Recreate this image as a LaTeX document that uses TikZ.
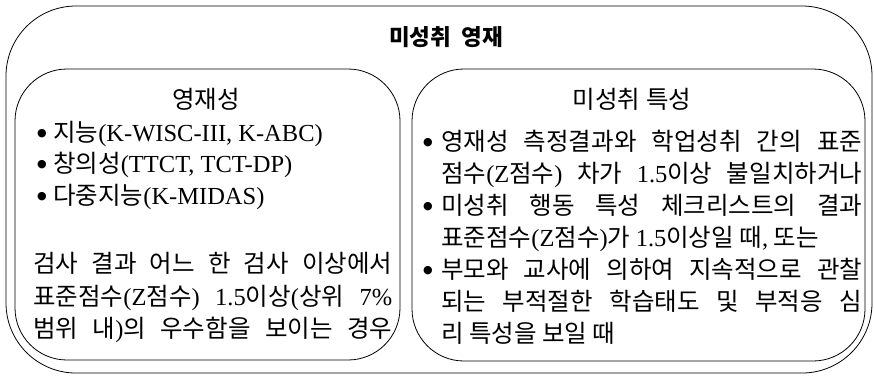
\documentclass[tikz,border=0pt]{standalone}
\usepackage{fontspec}
\setmainfont{Noto Sans CJK KR}
\newfontfamily\latfont{Liberation Serif}
\newfontfamily\symfont{DejaVu Sans}
\newcommand\lt[1]{{\latfont #1}}
\newcommand\bul{{\fontsize{11pt}{11pt}\selectfont\symfont ●}}
\begin{document}
\begin{tikzpicture}[x=1pt,y=-1pt,
  boxline/.style={draw=black, line width=0.8pt},
  body/.style={inner sep=0pt, anchor=base west, font=\fontsize{24.5pt}{28pt}\selectfont},
  bulletmark/.style={inner sep=0pt, anchor=center},
  heading/.style={inner sep=0pt, font=\fontsize{24.5pt}{28pt}\selectfont},
  titletext/.style={inner sep=0pt, font=\fontsize{22.5pt}{26pt}\selectfont\bfseries}]
\useasboundingbox (0,0) rectangle (874,376);
% boxes
\node[boxline, rounded corners=70pt, minimum width=866pt, minimum height=367pt, inner sep=0pt] (outer) at (439,189.5) {};
\node[boxline, rounded corners=52pt, minimum width=385pt, minimum height=291pt, inner sep=0pt] (leftbox) at (207.5,214.5) {};
\node[boxline, rounded corners=52pt, minimum width=453pt, minimum height=292pt, inner sep=0pt] (rightbox) at (638.5,215) {};
% title and headings
\node[titletext] (title) at (446,37) {미성취\hspace{5pt} 영재};
\node[heading] (lhead) at (206,99) {영재성};
\node[heading] (rhead) at (632,99) {미성취 특성};
% left box text
\node[bulletmark] (lb1) at (42,134) {\bul};
\node[body] (l1) at (53,141) {지능\lt{(K-WISC-III, K-ABC)}};
\node[bulletmark] (lb2) at (42,165) {\bul};
\node[body] (l2) at (53,172) {창의성\lt{(TTCT, TCT-DP)}};
\node[bulletmark] (lb3) at (42,197) {\bul};
\node[body] (l3) at (53,204) {다중지능\lt{(K-MIDAS)}};
\node[body] (l4) at (33,272) {\makebox[359pt][s]{검사 결과 어느 한 검사 이상에서}};
\node[body] (l5) at (33,305) {\makebox[359pt][s]{표준점수\lt{(Z}점수\lt{)} \lt{1.5}이상\lt{(}상위 \lt{7\%}}};
\node[body] (l6) at (33,337) {\makebox[359pt][s]{범위 내\lt{)}의 우수함을 보이는 경우}};
% right box text
\node[bulletmark] (rb1) at (428,143) {\bul};
\node[body] (r1) at (441,150) {\makebox[421pt][s]{영재성 측정결과와 학업성취 간의 표준}};
\node[body] (r2) at (441,182) {\makebox[421pt][s]{점수\lt{(Z}점수\lt{)} 차가 \lt{1.5}이상 불일치하거나}};
\node[bulletmark] (rb2) at (428,207) {\bul};
\node[body] (r3) at (441,214) {\makebox[421pt][s]{미성취 행동 특성 체크리스트의 결과}};
\node[body] (r4) at (441,246) {표준점수\lt{(Z}점수\lt{)}가 \lt{1.5}이상일 때\lt{,} 또는};
\node[bulletmark] (rb3) at (428,271) {\bul};
\node[body] (r5) at (441,278) {\makebox[421pt][s]{부모와 교사에 의하여 지속적으로 관찰}};
\node[body] (r6) at (441,310) {\makebox[421pt][s]{되는 부적절한 학습태도 및 부적응 심}};
\node[body] (r7) at (441,342) {리 특성을 보일 때};
\end{tikzpicture}
\end{document}
